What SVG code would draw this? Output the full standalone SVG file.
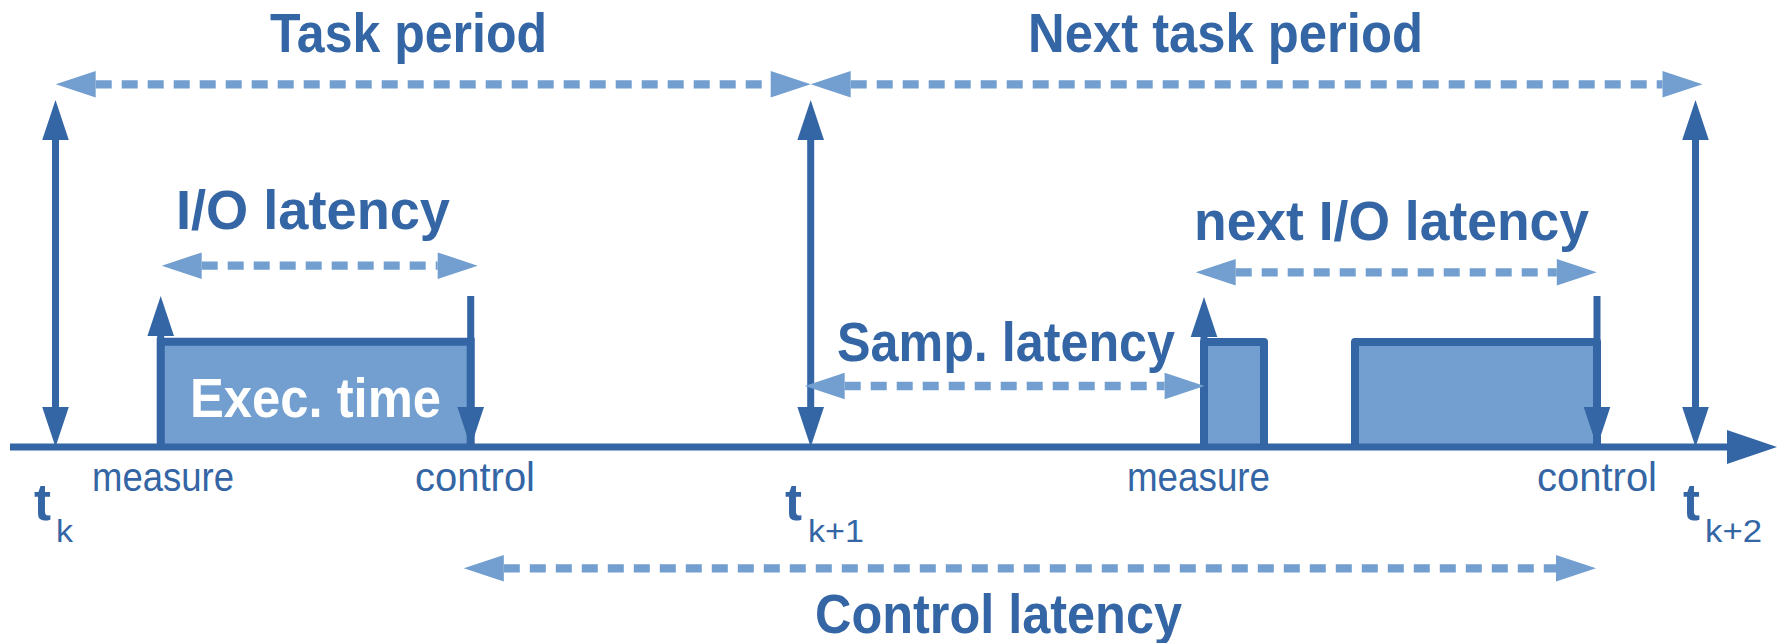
<svg xmlns="http://www.w3.org/2000/svg" width="1777" height="643" viewBox="0 0 1777 643">
<style>
.dk{stroke:#3465a4;stroke-width:7;fill:none}
.lt{stroke:#729fcf;stroke-width:8.3;fill:none;stroke-dasharray:16 10}
.box{fill:#729fcf;stroke:#3465a4;stroke-width:8}
.big{font-family:"Liberation Sans",Arial,sans-serif;font-weight:bold;font-size:55px;fill:#3465a4}
.sm{font-family:"Liberation Sans",Arial,sans-serif;font-size:40px;fill:#3465a4}
.tt{font-family:"Liberation Sans",Arial,sans-serif;font-weight:bold;font-size:51px;fill:#3465a4}
.sub{font-family:"Liberation Sans",Arial,sans-serif;font-size:32px;fill:#3465a4}
</style>
<defs>
<marker id="hd" markerUnits="userSpaceOnUse" viewBox="0 -13.3 40 26.6" refX="0" refY="0" markerWidth="40" markerHeight="26.6" orient="auto-start-reverse" overflow="visible">
<path d="M0,-13.3 L40,0 L0,13.3 z" fill="#3465a4"/>
</marker>
<marker id="hl" markerUnits="userSpaceOnUse" viewBox="0 -13.3 40 26.6" refX="0" refY="0" markerWidth="40" markerHeight="26.6" orient="auto-start-reverse" overflow="visible">
<path d="M0,-13.3 L40,0 L0,13.3 z" fill="#729fcf"/>
</marker>
</defs>

<g id="box-exec">
<path class="box" d="M160.7,447 V341.7 H470.7 V447" stroke-linejoin="miter"/>
</g>
<g id="box-samp">
<path class="box" d="M1204,447 V342 H1264 V447" stroke-linejoin="round"/>
</g>
<g id="box-next">
<path class="box" d="M1355,447 V342 H1597 V447" stroke-linejoin="round"/>
</g>

<g id="connectors">
<path class="dk" d="M55.5,140 V407" marker-start="url(#hd)" marker-end="url(#hd)"/>
<path class="dk" d="M810.7,140 V407" marker-start="url(#hd)" marker-end="url(#hd)"/>
<path class="dk" d="M1695.5,140 V407" marker-start="url(#hd)" marker-end="url(#hd)"/>
<path class="dk" d="M160.7,447 V336" marker-end="url(#hd)"/>
<path class="dk" d="M470.7,296 V407" marker-end="url(#hd)"/>
<path class="dk" d="M1204,447 V337" marker-end="url(#hd)"/>
<path class="dk" d="M1597,296 V407" marker-end="url(#hd)"/>
<path class="dk" d="M10,447 H1728"/>
<polygon points="1727,430 1777,447 1727,464" fill="#3465a4"/>
<path class="lt" d="M95.7,84.3 H770.7" marker-start="url(#hl)" marker-end="url(#hl)"/>
<path class="lt" d="M850.7,84.3 H1662.5" marker-start="url(#hl)" marker-end="url(#hl)"/>
<path class="lt" d="M201.7,265.7 H437.7" marker-start="url(#hl)" marker-end="url(#hl)"/>
<path class="lt" d="M844.7,386 H1164.6" marker-start="url(#hl)" marker-end="url(#hl)"/>
<path class="lt" d="M1235.7,272.3 H1556.8" marker-start="url(#hl)" marker-end="url(#hl)"/>
<path class="lt" d="M503.8,568.3 H1556" marker-start="url(#hl)" marker-end="url(#hl)"/>
</g>

<g id="label-task-period"><text class="big" x="270" y="51.7" textLength="277" lengthAdjust="spacingAndGlyphs">Task period</text></g>
<g id="label-next-task-period"><text class="big" x="1028" y="51.7" textLength="395" lengthAdjust="spacingAndGlyphs">Next task period</text></g>
<g id="label-io-latency"><text class="big" x="176" y="229.3" textLength="274" lengthAdjust="spacingAndGlyphs">I/O latency</text></g>
<g id="label-next-io-latency"><text class="big" x="1194" y="240" textLength="395" lengthAdjust="spacingAndGlyphs">next I/O latency</text></g>
<g id="label-exec-time"><text class="big" x="190" y="417.3" textLength="251" lengthAdjust="spacingAndGlyphs" style="fill:#ffffff">Exec. time</text></g>
<g id="label-samp-latency"><text class="big" x="837" y="361" textLength="338" lengthAdjust="spacingAndGlyphs">Samp. latency</text></g>
<g id="label-control-latency"><text class="big" x="815" y="633.3" textLength="367" lengthAdjust="spacingAndGlyphs">Control latency</text></g>
<g id="label-measure-1"><text class="sm" x="92" y="491" textLength="142" lengthAdjust="spacingAndGlyphs">measure</text></g>
<g id="label-control-1"><text class="sm" x="415" y="491" textLength="120" lengthAdjust="spacingAndGlyphs">control</text></g>
<g id="label-measure-2"><text class="sm" x="1127" y="490.5" textLength="143" lengthAdjust="spacingAndGlyphs">measure</text></g>
<g id="label-control-2"><text class="sm" x="1537" y="490.7" textLength="120" lengthAdjust="spacingAndGlyphs">control</text></g>
<g id="label-tk"><text class="tt" x="34" y="520">t</text><text class="sub" x="56" y="541.5" textLength="17" lengthAdjust="spacingAndGlyphs">k</text></g>
<g id="label-tk1"><text class="tt" x="785" y="520">t</text><text class="sub" x="808" y="541.5" textLength="56" lengthAdjust="spacingAndGlyphs">k+1</text></g>
<g id="label-tk2"><text class="tt" x="1683" y="519.5">t</text><text class="sub" x="1705" y="541.5" textLength="57" lengthAdjust="spacingAndGlyphs">k+2</text></g>
</svg>
